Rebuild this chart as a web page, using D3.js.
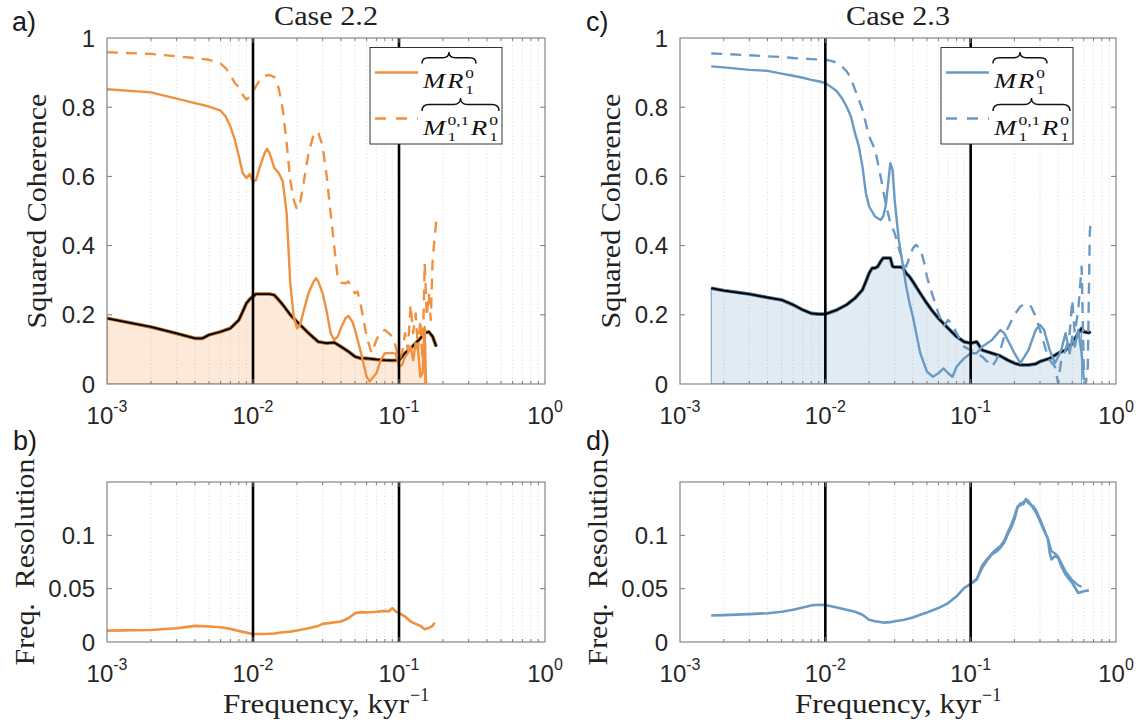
<!DOCTYPE html>
<html><head><meta charset="utf-8">
<script src="https://cdn.jsdelivr.net/npm/d3@7"></script>
<style>body{margin:0;background:#fff} svg{display:block}</style>
</head><body>
<svg id="chart" width="1142" height="726"></svg>
<script>
// ---------------- DATA ----------------
const panelTitles = ["Case 2.2", "Case 2.3"];
const panelLetters = ["a)", "b)", "c)", "d)"];
const xExponents = [-3, -2, -1, 0];
const coherenceTicks = [0, 0.2, 0.4, 0.6, 0.8, 1];
const coherenceTickLabels = ["0", "0.2", "0.4", "0.6", "0.8", "1"];
const resolutionTicks = [0, 0.05, 0.1];
const resolutionTickLabels = ["0", "0.05", "0.1"];
const markerFreqs = [0.01, 0.1];

// Case 2.2 : [frequency (kyr^-1), value]
const case22_MR = [[0.001,0.852],[0.002,0.843],[0.003,0.825],[0.004,0.812],[0.005,0.802],[0.006,0.79],[0.0065,0.773],[0.007,0.744],[0.0075,0.706],[0.008,0.658],[0.0085,0.61],[0.009,0.595],[0.0095,0.607],[0.01,0.585],[0.0105,0.59],[0.011,0.62],[0.012,0.667],[0.0125,0.68],[0.013,0.667],[0.014,0.624],[0.015,0.61],[0.016,0.585],[0.017,0.494],[0.018,0.291],[0.019,0.195],[0.02,0.161],[0.021,0.17],[0.022,0.204],[0.024,0.262],[0.026,0.296],[0.027,0.306],[0.028,0.296],[0.03,0.262],[0.032,0.209],[0.034,0.147],[0.036,0.127],[0.038,0.137],[0.04,0.161],[0.043,0.19],[0.045,0.197],[0.048,0.18],[0.05,0.156],[0.055,0.089],[0.06,0.021],[0.063,0.007],[0.07,0.031],[0.075,0.069],[0.08,0.089],[0.09,0.09],[0.095,0.087],[0.1,0.05],[0.105,0.055],[0.11,0.079],[0.115,0.089],[0.12,0.108],[0.125,0.069],[0.13,0.118],[0.135,0.098],[0.14,0.021],[0.145,0.031],[0.15,0.165],[0.153,0.007],[0.155,0.002]];
const case22_M01R = [[0.001,0.959],[0.002,0.954],[0.003,0.947],[0.004,0.942],[0.005,0.937],[0.006,0.926],[0.0065,0.913],[0.007,0.894],[0.0075,0.87],[0.008,0.858],[0.0085,0.836],[0.009,0.822],[0.0095,0.831],[0.01,0.846],[0.011,0.875],[0.012,0.891],[0.013,0.893],[0.014,0.887],[0.015,0.855],[0.016,0.793],[0.017,0.696],[0.018,0.59],[0.019,0.532],[0.02,0.505],[0.021,0.522],[0.022,0.571],[0.024,0.667],[0.026,0.72],[0.027,0.73],[0.028,0.727],[0.03,0.687],[0.032,0.6],[0.034,0.494],[0.036,0.397],[0.038,0.31],[0.04,0.293],[0.043,0.291],[0.045,0.296],[0.048,0.272],[0.05,0.262],[0.052,0.267],[0.055,0.224],[0.06,0.137],[0.065,0.089],[0.07,0.127],[0.075,0.151],[0.08,0.156],[0.085,0.147],[0.09,0.137],[0.095,0.108],[0.1,0.069],[0.105,0.089],[0.11,0.147],[0.115,0.098],[0.12,0.229],[0.125,0.147],[0.13,0.204],[0.135,0.098],[0.14,0.185],[0.145,0.069],[0.15,0.349],[0.155,0.195],[0.16,0.262],[0.165,0.185],[0.17,0.359],[0.175,0.417],[0.18,0.47]];
const case22_threshold = [[0.001,0.19],[0.002,0.165],[0.003,0.146],[0.004,0.132],[0.0045,0.132],[0.005,0.142],[0.006,0.151],[0.007,0.161],[0.008,0.185],[0.0085,0.209],[0.009,0.233],[0.0095,0.245],[0.01,0.253],[0.0105,0.26],[0.012,0.26],[0.013,0.26],[0.014,0.257],[0.015,0.243],[0.016,0.229],[0.018,0.2],[0.02,0.18],[0.024,0.147],[0.028,0.122],[0.032,0.118],[0.036,0.12],[0.04,0.108],[0.045,0.094],[0.05,0.079],[0.055,0.074],[0.06,0.074],[0.07,0.071],[0.08,0.069],[0.09,0.068],[0.1,0.069],[0.11,0.089],[0.12,0.103],[0.13,0.118],[0.14,0.132],[0.15,0.147],[0.16,0.151],[0.17,0.137],[0.18,0.108]];
const case22_fillEnd = 0.155;
const case22_resolution = [[0.001,0.0107],[0.002,0.0113],[0.003,0.0129],[0.004,0.0151],[0.005,0.0145],[0.006,0.0138],[0.007,0.0123],[0.008,0.0104],[0.009,0.0088],[0.01,0.0075],[0.012,0.0075],[0.014,0.0079],[0.016,0.0091],[0.018,0.0097],[0.02,0.0107],[0.024,0.0129],[0.028,0.0151],[0.03,0.017],[0.035,0.0182],[0.04,0.0192],[0.045,0.0223],[0.05,0.027],[0.055,0.028],[0.06,0.0277],[0.07,0.0283],[0.08,0.0292],[0.085,0.0286],[0.09,0.0318],[0.095,0.0286],[0.1,0.027],[0.11,0.0239],[0.12,0.0192],[0.13,0.017],[0.14,0.0151],[0.15,0.0119],[0.16,0.0132],[0.17,0.0151],[0.175,0.0182]];

// Case 2.3
const case23_MR = [[0.00164,0.918],[0.002,0.915],[0.003,0.908],[0.004,0.905],[0.005,0.897],[0.006,0.891],[0.007,0.885],[0.008,0.879],[0.009,0.875],[0.01,0.87],[0.011,0.858],[0.012,0.846],[0.013,0.826],[0.014,0.802],[0.015,0.773],[0.016,0.725],[0.017,0.687],[0.018,0.629],[0.019,0.552],[0.02,0.513],[0.022,0.484],[0.024,0.474],[0.025,0.484],[0.026,0.513],[0.027,0.576],[0.028,0.638],[0.029,0.619],[0.03,0.532],[0.032,0.417],[0.034,0.349],[0.036,0.282],[0.038,0.233],[0.04,0.195],[0.045,0.089],[0.05,0.036],[0.055,0.021],[0.06,0.031],[0.065,0.045],[0.07,0.031],[0.075,0.021],[0.08,0.05],[0.09,0.074],[0.1,0.089],[0.11,0.089],[0.12,0.108],[0.13,0.118],[0.14,0.127],[0.15,0.142],[0.16,0.156],[0.17,0.147],[0.18,0.127],[0.2,0.089],[0.22,0.06],[0.25,0.098],[0.28,0.156],[0.3,0.171],[0.32,0.156],[0.35,0.098],[0.38,0.06],[0.4,0.079],[0.42,0.098],[0.45,0.147],[0.48,0.089],[0.5,0.137],[0.52,0.108],[0.55,0.156],[0.58,0.089],[0.6,0.012]];
const case23_M01R = [[0.00164,0.955],[0.002,0.954],[0.003,0.95],[0.004,0.947],[0.005,0.945],[0.006,0.942],[0.008,0.939],[0.01,0.937],[0.011,0.934],[0.012,0.928],[0.013,0.918],[0.014,0.904],[0.015,0.884],[0.016,0.851],[0.017,0.822],[0.018,0.793],[0.019,0.754],[0.02,0.716],[0.022,0.677],[0.024,0.6],[0.026,0.523],[0.028,0.465],[0.03,0.436],[0.032,0.392],[0.034,0.359],[0.036,0.339],[0.038,0.368],[0.04,0.392],[0.042,0.402],[0.045,0.392],[0.048,0.349],[0.05,0.31],[0.055,0.253],[0.06,0.204],[0.065,0.166],[0.07,0.185],[0.075,0.171],[0.08,0.147],[0.09,0.108],[0.1,0.098],[0.11,0.089],[0.12,0.079],[0.13,0.065],[0.14,0.05],[0.15,0.069],[0.16,0.098],[0.17,0.137],[0.18,0.161],[0.2,0.2],[0.22,0.224],[0.24,0.233],[0.26,0.224],[0.28,0.195],[0.3,0.156],[0.33,0.098],[0.35,0.069],[0.38,0.05],[0.4,0.002],[0.42,0.069],[0.45,0.098],[0.48,0.147],[0.5,0.243],[0.52,0.147],[0.55,0.214],[0.58,0.339],[0.6,0.05],[0.62,0.002],[0.64,0.05],[0.66,0.436],[0.67,0.474]];
const case23_threshold = [[0.00164,0.277],[0.002,0.27],[0.003,0.26],[0.004,0.25],[0.005,0.243],[0.006,0.229],[0.007,0.214],[0.008,0.204],[0.009,0.202],[0.01,0.202],[0.012,0.214],[0.014,0.229],[0.016,0.248],[0.018,0.272],[0.019,0.296],[0.02,0.32],[0.021,0.335],[0.022,0.335],[0.023,0.34],[0.024,0.354],[0.025,0.364],[0.026,0.364],[0.028,0.364],[0.029,0.34],[0.03,0.338],[0.032,0.338],[0.034,0.337],[0.036,0.32],[0.038,0.31],[0.04,0.296],[0.045,0.262],[0.05,0.233],[0.055,0.209],[0.06,0.19],[0.07,0.161],[0.08,0.137],[0.09,0.122],[0.1,0.118],[0.11,0.122],[0.12,0.098],[0.14,0.089],[0.16,0.081],[0.18,0.069],[0.2,0.06],[0.22,0.055],[0.25,0.055],[0.28,0.058],[0.3,0.065],[0.35,0.074],[0.4,0.089],[0.45,0.098],[0.5,0.118],[0.55,0.147],[0.58,0.161],[0.6,0.151],[0.65,0.148],[0.67,0.151]];
const case23_fillEnd = 0.58;
const case23_resolution = [[0.00164,0.0248],[0.002,0.0252],[0.003,0.0261],[0.004,0.027],[0.005,0.0283],[0.006,0.0302],[0.007,0.0324],[0.008,0.0343],[0.009,0.0349],[0.01,0.0346],[0.012,0.0324],[0.014,0.0302],[0.016,0.0283],[0.018,0.0255],[0.02,0.0208],[0.022,0.0195],[0.025,0.0182],[0.028,0.0186],[0.03,0.0195],[0.035,0.0208],[0.04,0.023],[0.045,0.0255],[0.05,0.0277],[0.06,0.0318],[0.07,0.0365],[0.08,0.0428],[0.09,0.0506],[0.1,0.0544],[0.11,0.0585],[0.12,0.0695],[0.13,0.0767],[0.14,0.0821],[0.15,0.0846],[0.16,0.0884],[0.17,0.0931],[0.18,0.101],[0.19,0.1072],[0.2,0.115],[0.21,0.126],[0.22,0.13],[0.23,0.129],[0.24,0.134],[0.25,0.132],[0.26,0.128],[0.27,0.127],[0.28,0.124],[0.3,0.115],[0.32,0.1057],[0.34,0.0962],[0.35,0.0836],[0.36,0.0774],[0.38,0.0805],[0.4,0.0789],[0.42,0.0711],[0.45,0.0632],[0.5,0.0553],[0.55,0.0459],[0.6,0.0475],[0.65,0.0484]];
const case23_resolution2 = [[0.1,0.0548],[0.11,0.059],[0.12,0.072],[0.13,0.078],[0.14,0.083],[0.15,0.087],[0.16,0.09],[0.17,0.095],[0.18,0.103],[0.19,0.11],[0.2,0.118],[0.21,0.127],[0.22,0.128],[0.23,0.131],[0.24,0.133],[0.25,0.13],[0.26,0.129],[0.27,0.125],[0.28,0.122],[0.3,0.113],[0.32,0.104],[0.34,0.097],[0.36,0.085],[0.38,0.083],[0.4,0.08],[0.42,0.074],[0.45,0.066],[0.5,0.058],[0.55,0.053],[0.58,0.052]];

// ---------------- STYLE / LAYOUT ----------------
const ORANGE = "#F0913F", BLUE = "#6A9AC4";
const SANS = "'Liberation Sans', Arial, Helvetica, sans-serif";
const SERIF = "'Liberation Serif', 'Times New Roman', serif";
const TXT = "#262626";
const xDomain = [1e-3, 1];

const svg = d3.select("#chart");

const panels = [
  {id:"a", x0:107, x1:545, y0:38, y1:384, ymax:1, ticks:coherenceTicks, labels:coherenceTickLabels, color:ORANGE,
   solid:case22_MR, dashed:case22_M01R, thr:case22_threshold, fillEnd:case22_fillEnd,
   letter:panelLetters[0], lx:12, ly:31, title:panelTitles[0], ylab:"Squared Coherence", ylabX:46, ylabLen:235, legendX:370},
  {id:"c", x0:680, x1:1116, y0:38, y1:384, ymax:1, ticks:coherenceTicks, labels:coherenceTickLabels, color:BLUE,
   solid:case23_MR, dashed:case23_M01R, thr:case23_threshold, fillEnd:case23_fillEnd,
   letter:panelLetters[2], lx:586, ly:31, title:panelTitles[1], ylab:"Squared Coherence", ylabX:620, ylabLen:235, legendX:941},
  {id:"b", x0:107, x1:545, y0:482, y1:642, ymax:0.15, ticks:resolutionTicks, labels:resolutionTickLabels, color:ORANGE,
   res:case22_resolution, letter:panelLetters[1], lx:13, ly:450, ylab:"Freq.\u00A0\u00A0Resolution", ylabX:34, ylabLen:207, xlab:true},
  {id:"d", x0:680, x1:1116, y0:482, y1:642, ymax:0.15, ticks:resolutionTicks, labels:resolutionTickLabels, color:BLUE,
   res:case23_resolution, res2:case23_resolution2, letter:panelLetters[3], lx:586, ly:450, ylab:"Freq.\u00A0\u00A0Resolution", ylabX:607, ylabLen:207, xlab:true}
];

const isMajor = t => Math.abs(Math.log10(t) - Math.round(Math.log10(t))) < 1e-6;

function brace(x0, x1, yTop, h){
  const xm = (x0+x1)/2, r = Math.min(h*0.55, (x1-x0)/4);
  const yb = yTop + h, ym = yTop + h*0.5;
  return `M${x0},${yb} Q${x0},${ym} ${x0+r},${ym} L${xm-r},${ym} Q${xm},${ym} ${xm},${yTop} Q${xm},${ym} ${xm+r},${ym} L${x1-r},${ym} Q${x1},${ym} ${x1},${yb}`;
}

function measure(str, size, italic){
  const t = svg.append("text").attr("font-family", SERIF).attr("font-size", size)
    .attr("font-style", italic ? "italic" : "normal").text(str);
  const w = t.node().getComputedTextLength();
  t.remove();
  return w;
}

// one <text> per expression: italic atoms with stacked sub/superscripts (tspans), stretched to targetW
function drawMath(parent, x, y, parts, targetW){
  const MAIN = 20, SMALL = 13;
  let cx = x;
  const pieces = [];
  parts.forEach(pt => {
    pieces.push({s: pt.t, x: cx, y: y, size: MAIN, it: true});
    cx += measure(pt.t, MAIN, true) + 1.5;
    let w = 0;
    if (pt.sub){ pieces.push({s: pt.sub, x: cx, y: y+6, size: SMALL}); w = Math.max(w, measure(pt.sub, SMALL)); }
    if (pt.sup){ pieces.push({s: pt.sup, x: cx, y: y-9.5, size: SMALL}); w = Math.max(w, measure(pt.sup, SMALL)); }
    cx += w + (pt.gap || 0);
  });
  const s = targetW / (cx - x);
  const t = parent.append("text").attr("font-family", SERIF).attr("fill", "#111")
    .attr("transform", `translate(${x},0) scale(${s},1) translate(${-x},0)`);
  pieces.forEach(pc => {
    t.append("tspan").attr("x", pc.x).attr("y", pc.y).attr("font-size", pc.size)
      .attr("font-style", pc.it ? "italic" : "normal").text(pc.s);
  });
  return targetW;
}

panels.forEach(p => {
  const g = svg.append("g");
  const x = d3.scaleLog().domain(xDomain).range([p.x0, p.x1]);
  const y = d3.scaleLinear().domain([0, p.ymax]).range([p.y1, p.y0]);
  const clipId = "clip-" + p.id;
  svg.append("clipPath").attr("id", clipId).append("rect")
    .attr("x", p.x0).attr("y", p.y0).attr("width", p.x1-p.x0).attr("height", p.y1-p.y0);

  const xt = x.ticks().filter(t => t > xDomain[0]*1.0001 && t < xDomain[1]*0.9999);
  // grid
  g.append("g").selectAll("line").data(xt).join("line")
    .attr("x1", d => x(d)).attr("x2", d => x(d)).attr("y1", p.y0).attr("y2", p.y1)
    .attr("stroke", "#d0d0d0").attr("stroke-width", 0.8).attr("stroke-dasharray", "1,2.5");

  const plot = g.append("g").attr("clip-path", `url(#${clipId})`);
  const line = d3.line().x(d => x(d[0])).y(d => y(d[1]));

  if (p.thr){
    const fillData = p.thr.filter(d => d[0] <= p.fillEnd + 1e-9);
    const area = d3.area().x(d => x(d[0])).y0(y(0)).y1(d => y(d[1]));
    plot.append("path").datum(fillData).attr("d", area)
      .attr("fill", p.color).attr("fill-opacity", 0.2).attr("stroke", p.color).attr("stroke-width", 1);
    plot.append("path").datum(p.thr).attr("d", line).attr("fill", "none")
      .attr("stroke", d3.color(p.color).darker(0.9)).attr("stroke-width", 3.6).attr("stroke-linejoin", "round");
    plot.append("path").datum(p.thr).attr("d", line).attr("fill", "none")
      .attr("stroke", "#000").attr("stroke-width", 1.8).attr("stroke-linejoin", "round");
    plot.append("path").datum(p.solid).attr("d", line).attr("fill", "none")
      .attr("stroke", p.color).attr("stroke-width", 2.4).attr("stroke-linejoin", "round");
    plot.append("path").datum(p.dashed).attr("d", line).attr("fill", "none")
      .attr("stroke", p.color).attr("stroke-width", 2.4).attr("stroke-dasharray", "11,8").attr("stroke-linejoin", "round");
  }
  if (p.res){
    if (p.res2){
      plot.append("path").datum(p.res2).attr("d", line).attr("fill", "none")
        .attr("stroke", p.color).attr("stroke-width", 2.4).attr("stroke-linejoin", "round");
    }
    plot.append("path").datum(p.res).attr("d", line).attr("fill", "none")
      .attr("stroke", p.color).attr("stroke-width", 2.6).attr("stroke-linejoin", "round");
  }

  // marker lines
  g.append("g").selectAll("line").data(markerFreqs).join("line")
    .attr("x1", d => x(d)).attr("x2", d => x(d)).attr("y1", p.y0).attr("y2", p.y1)
    .attr("stroke", "#000").attr("stroke-width", 2.6);

  // box
  g.append("rect").attr("x", p.x0).attr("y", p.y0).attr("width", p.x1-p.x0).attr("height", p.y1-p.y0)
    .attr("fill", "none").attr("stroke", "#7a7a7a").attr("stroke-width", 1.1);

  // ticks (inward, all four sides)
  const tk = g.append("g").attr("stroke", "#7a7a7a").attr("stroke-width", 1);
  xt.forEach(t => {
    const len = isMajor(t) ? 5 : 3;
    tk.append("line").attr("x1", x(t)).attr("x2", x(t)).attr("y1", p.y1).attr("y2", p.y1-len);
    tk.append("line").attr("x1", x(t)).attr("x2", x(t)).attr("y1", p.y0).attr("y2", p.y0+len);
  });
  p.ticks.forEach(v => {
    if (v <= 0 || v >= p.ymax) return;
    tk.append("line").attr("x1", p.x0).attr("x2", p.x0+5).attr("y1", y(v)).attr("y2", y(v));
    tk.append("line").attr("x1", p.x1).attr("x2", p.x1-5).attr("y1", y(v)).attr("y2", y(v));
  });

  // y tick labels
  g.append("g").selectAll("text").data(p.ticks).join("text")
    .attr("x", p.x0 - 12).attr("y", d => y(d)).attr("dy", "0.36em")
    .attr("text-anchor", "end").attr("font-family", SANS).attr("font-size", 24).attr("fill", TXT)
    .text((d,i) => p.labels[i]);

  // x tick labels 10^e
  const xl = g.append("g").selectAll("text").data(xExponents).join("text")
    .attr("x", d => x(Math.pow(10, d))).attr("y", p.y1 + 40)
    .attr("text-anchor", "middle").attr("font-family", SANS).attr("font-size", 24).attr("fill", TXT);
  xl.append("tspan").text("10");
  xl.append("tspan").attr("dy", -12).attr("font-size", 16).text(d => String(d));

  // panel letter
  svg.append("text").attr("x", p.lx).attr("y", p.ly).attr("font-family", SANS).attr("font-size", 27)
    .attr("fill", "#1a1a1a").text(p.letter);

  // y label
  const cy = (p.y0 + p.y1)/2;
  svg.append("text").attr("transform", `translate(${p.ylabX},${cy}) rotate(-90)`)
    .attr("text-anchor", "middle").attr("font-family", SERIF).attr("font-size", 27).attr("fill", "#222")
    .attr("textLength", p.ylabLen).attr("lengthAdjust", "spacingAndGlyphs").text(p.ylab);

  // title
  if (p.title){
    svg.append("text").attr("x", (p.x0+p.x1)/2).attr("y", 25).attr("text-anchor", "middle")
      .attr("font-family", SERIF).attr("font-size", 27).attr("fill", "#222")
      .attr("textLength", 104).attr("lengthAdjust", "spacingAndGlyphs").text(p.title);
  }

  // x label
  if (p.xlab){
    const cx = (p.x0+p.x1)/2, total = 206, mainLen = 186;
    const sx = cx - total/2;
    const xtxt = svg.append("text").attr("font-family", SERIF).attr("fill", "#222");
    xtxt.append("tspan").attr("x", sx).attr("y", 713).attr("font-size", 27)
      .attr("textLength", mainLen).attr("lengthAdjust", "spacingAndGlyphs").text("Frequency, kyr");
    xtxt.append("tspan").attr("x", sx + mainLen + 1).attr("y", 701).attr("font-size", 18).text("\u22121");
  }

  // legend
  if (p.legendX){
    const L = svg.append("g");
    const bx = p.legendX, by = 47.5, bw = 132, bh = 96.5;
    L.append("rect").attr("x", bx).attr("y", by).attr("width", bw).attr("height", bh)
      .attr("fill", "#fff").attr("stroke", "#333").attr("stroke-width", 1);
    L.append("line").attr("x1", bx+5).attr("x2", bx+48).attr("y1", by+25).attr("y2", by+25)
      .attr("stroke", p.color).attr("stroke-width", 2.4);
    L.append("line").attr("x1", bx+5).attr("x2", bx+48).attr("y1", by+71).attr("y2", by+71)
      .attr("stroke", p.color).attr("stroke-width", 2.4).attr("stroke-dasharray", "11,10");
    const tx = bx + 53;
    const w1 = drawMath(L, tx, by+40.5, [{t:"M", gap:0}, {t:"R", sub:"1", sup:"0"}], 51);
    L.append("path").attr("d", brace(tx-1, tx+w1+2, by+4.5, 11.5)).attr("fill", "none")
      .attr("stroke", "#111").attr("stroke-width", 1.4);
    const w2 = drawMath(L, tx, by+87.5, [{t:"M", sub:"1", sup:"0,1", gap:1}, {t:"R", sub:"1", sup:"0"}], 75);
    L.append("path").attr("d", brace(tx-1, tx+w2+1, by+50.5, 13)).attr("fill", "none")
      .attr("stroke", "#111").attr("stroke-width", 1.4);
  }
});
</script>
</body></html>
